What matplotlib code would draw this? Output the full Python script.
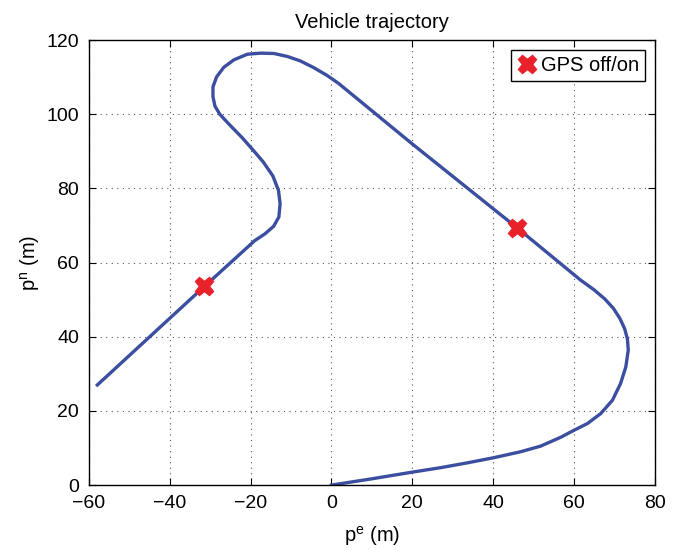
import numpy as np
import matplotlib
matplotlib.use("Agg")
import matplotlib.pyplot as plt

plt.rcParams['font.family'] = ['Liberation Sans', 'DejaVu Sans']
plt.rcParams['mathtext.default'] = 'regular'

# trajectory points (east, north) in metres
pe = [0, 10, 20, 27.0, 33.6, 40.2, 46.8, 51.7, 56.7, 60.0, 63.3, 66.6, 69.5,
      71.5, 72.8, 73.4, 73.2, 72.5, 71.3, 69.7, 67.6, 64.9, 61.6, 46.0, 20.0, 1.8,
      -1.1, -4.4, -7.7, -10.9, -14.2, -17.5, -20.8, -24.1, -26.6, -28.4, -29.3,
      -29.3, -28.8, -27.6, -25.3, -22.0, -19.5, -16.9, -14.5, -13.1, -12.7,
      -13.0, -14.3, -16.4, -19.0, -31.4, -57.9]
pn = [0, 1.7, 3.5, 4.7, 6.0, 7.4, 9.0, 10.5, 12.9, 14.8, 16.6, 19.3, 22.9,
      27.4, 31.9, 36.4, 39.4, 42.2, 45.0, 47.7, 50.2, 52.7, 55.3, 69.3, 92.0, 108.3,
      110.5, 112.6, 114.4, 115.6, 116.4, 116.5, 116.2, 114.7, 112.7, 110.1, 107.4,
      104.7, 102.2, 100.0, 97.3, 93.6, 90.5, 87.2, 83.4, 79.5, 75.9,
      72.3, 69.8, 67.8, 65.9, 53.6, 27.0]

# GPS off / on locations
gps_e = [-31.4, 46.0]
gps_n = [53.6, 69.3]

fig = plt.figure(figsize=(6.78, 5.5), dpi=100)
ax = fig.add_axes([0.131, 0.118, 0.835, 0.809])

ax.plot(pe, pn, color='#3b4ea0', lw=2.4, solid_joinstyle='round')
ax.plot(gps_e, gps_n, ls='none', marker='X', ms=13, color='#e8212b',
        markeredgecolor='#e8212b', label='GPS off/on')

ax.set_xlim(-60, 80)
ax.set_ylim(0, 120)
ax.set_xticks(np.arange(-60, 81, 20))
ax.set_yticks(np.arange(0, 121, 20))
ax.grid(True, ls=(0, (1, 4)), color='#555555', lw=0.8)
ax.tick_params(direction='in', top=True, right=True, labelsize=14, length=5, pad=7)
for s in ax.spines.values():
    s.set_linewidth(1.0)

ax.set_title('Vehicle trajectory', fontsize=14.5, pad=9)
ax.set_xlabel('p$^{e}$ (m)', fontsize=14.5, labelpad=9)
ax.set_ylabel('p$^{n}$ (m)', fontsize=14.5, labelpad=3)

leg = ax.legend(loc='upper right', fontsize=14.5, fancybox=False, edgecolor='black',
                handletextpad=0.2, handlelength=1.0, borderpad=0.3,
                borderaxespad=0.5, framealpha=1)
leg.get_frame().set_linewidth(1.0)

fig.savefig('out.png', dpi=100)
